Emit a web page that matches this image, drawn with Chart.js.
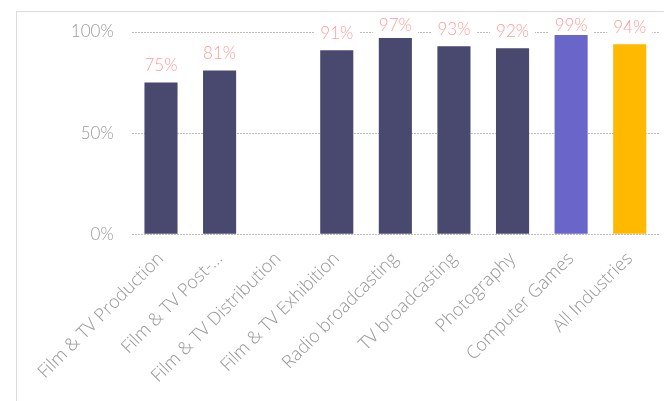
<!DOCTYPE html>
<html>
<head>
<meta charset="utf-8">
<script src="https://cdn.jsdelivr.net/npm/chart.js@4"></script>
<style>
  html, body { margin: 0; padding: 0; background: #fff; }
  #frame {
    position: absolute; left: 16px; top: 11px;
    width: 648px; height: 390px;
    border-left: 1px solid #dcdcdc; border-top: 1px solid #dcdcdc;
  }
  #wrap { position: absolute; left: 0; top: 0; width: 647px; height: 389px; }
</style>
</head>
<body>
<div id="frame"><div id="wrap"><canvas id="chart"></canvas></div></div>
<script>
const industries = [
    'Film & TV Production',
    'Film & TV Post-...',
    'Film & TV Distribution',
    'Film & TV Exhibition',
    'Radio broadcasting',
    'TV broadcasting',
    'Photography',
    'Computer Games',
    'All Industries'
];
const shareValues = [75, 81, null, 91, 97, 93, 92, 99, 94];
const barColors = ['#494970', '#494970', '#494970', '#494970', '#494970', '#494970', '#494970', '#6a66c9', '#ffb900'];
const yTicks = [0, 50, 100];

const fontFamily = "Lato, 'Open Sans', sans-serif";
const axisFont = "'Open Sans', Lato, sans-serif";

// value labels above each bar, with a white box that hides the grid line
const valueLabels = {
    id: 'valueLabels',
    afterDatasetsDraw(chart) {
        const ctx = chart.ctx;
        const meta = chart.getDatasetMeta(0);
        const top = chart.chartArea.top;
        ctx.save();
        ctx.font = '300 17px ' + fontFamily;
        ctx.textAlign = 'center';
        ctx.textBaseline = 'middle';
        meta.data.forEach((bar, i) => {
            const v = shareValues[i];
            if (v === null) return;
            const y = Math.max(bar.y - 17, top - 6);
            const txt = v + '%';
            const w = ctx.measureText(txt).width;
            ctx.fillStyle = '#fff';
            ctx.fillRect(bar.x - w / 2 - 6, y - 9, w + 12, 18);
            ctx.fillStyle = '#ff9c9c';
            ctx.fillText(txt, bar.x, y);
        });
        ctx.restore();
    }
};

new Chart(document.getElementById('chart'), {
    type: 'bar',
    data: {
        labels: industries,
        datasets: [{
            data: shareValues,
            backgroundColor: barColors,
            categoryPercentage: 1,
            barPercentage: 0.565
        }]
    },
    options: {
        responsive: true,
        maintainAspectRatio: false,
        animation: false,
        layout: { padding: { top: 20, right: 5, left: 0, bottom: 0 } },
        plugins: { legend: { display: false }, tooltip: { enabled: false } },
        scales: {
            x: {
                afterFit: s => { s.height = 166.7; },
                grid: { display: false },
                border: { display: false },
                ticks: {
                    autoSkip: false,
                    minRotation: 45,
                    maxRotation: 45,
                    padding: 6,
                    color: '#999',
                    font: { family: axisFont, size: 18, weight: 300 }
                }
            },
            y: {
                min: 0,
                max: 100,
                afterFit: s => {
                    s.width = 114.7;
                    s.paddingTop = 0;
                    s.paddingBottom = 0;
                },
                afterBuildTicks: s => { s.ticks = yTicks.map(v => ({ value: v })); },
                border: { display: false, dash: [2, 1] },
                grid: { color: '#bdbdbd', drawTicks: false, lineWidth: 1 },
                ticks: {
                    padding: 18,
                    color: '#999',
                    font: { family: fontFamily, size: 17, weight: 300 },
                    callback: v => v + '%'
                }
            }
        }
    },
    plugins: [valueLabels]
});
</script>
</body>
</html>
